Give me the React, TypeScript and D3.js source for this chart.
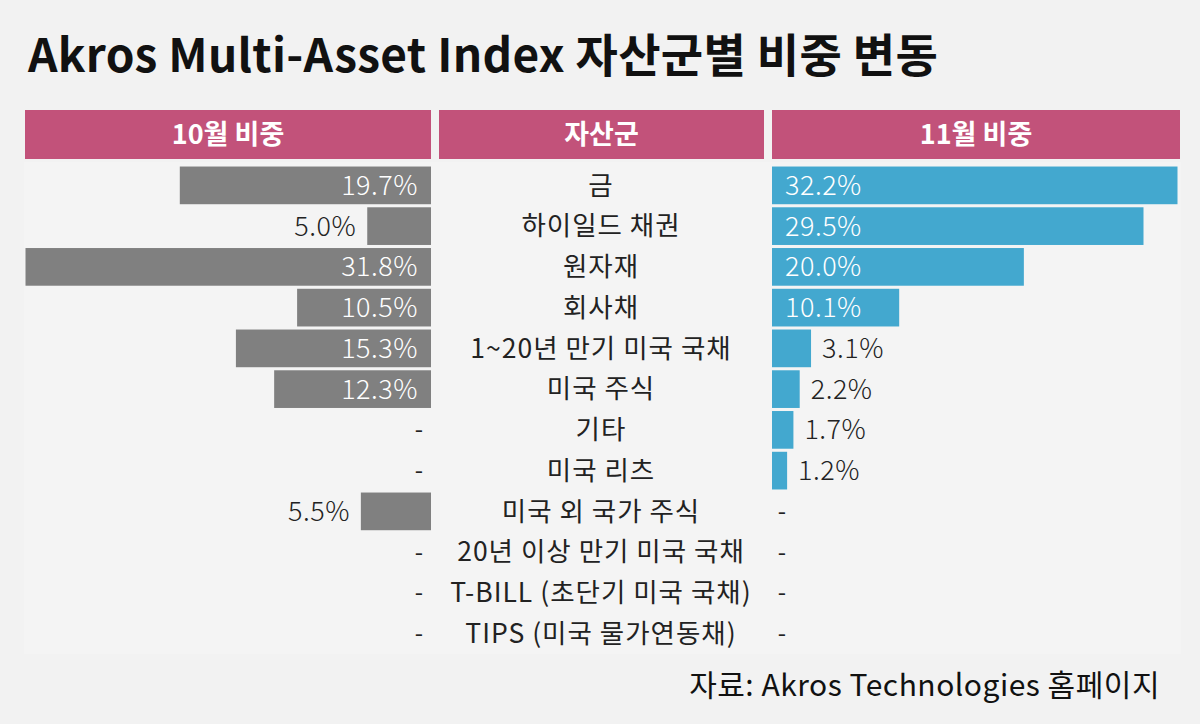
import React from "react";
import * as d3 from "d3";

const categories = [
  "금",
  "하이일드 채권",
  "원자재",
  "회사채",
  "1~20년 만기 미국 국채",
  "미국 주식",
  "기타",
  "미국 리츠",
  "미국 외 국가 주식",
  "20년 이상 만기 미국 국채",
  "T-BILL (초단기 미국 국채)",
  "TIPS (미국 물가연동채)",
];
const octWeights: (number | null)[] = [19.7, 5.0, 31.8, 10.5, 15.3, 12.3, null, null, 5.5, null, null, null];
const novWeights: (number | null)[] = [32.2, 29.5, 20.0, 10.1, 3.1, 2.2, 1.7, 1.2, null, null, null, null];
const headers = ["10월 비중", "자산군", "11월 비중"];
const title = "Akros Multi-Asset Index 자산군별 비중 변동";
const source = "자료: Akros Technologies 홈페이지";

const W = 1200;
const H = 724;
const FONT = "'Noto Sans CJK KR', 'Noto Sans', sans-serif";
const PINK = "#c2527a";
const BLUE = "#43a8cf";
const GRAY = "#808080";
const INSIDE_MIN = 8;

export default function App() {
  const leftEdge = 431;
  const rightStart = 772;
  const barMax = 405.5;

  const y = d3
    .scaleBand<string>()
    .domain(categories)
    .range([165, 654])
    .paddingInner(0.075)
    .paddingOuter(0.0375);

  const xL = d3.scaleLinear().domain([0, d3.max(octWeights, (d) => d ?? 0) as number]).range([0, barMax]);
  const xR = d3.scaleLinear().domain([0, d3.max(novWeights, (d) => d ?? 0) as number]).range([0, barMax]);

  const headerCols = [
    { x0: 25, x1: 431 },
    { x0: 439, x1: 764 },
    { x0: 772, x1: 1180 },
  ];

  const numSize = 27;

  return (
    <svg
      width={W}
      height={H}
      style={{ position: "absolute", left: 0, top: 0, display: "block" }}
      fontFamily={FONT}
    >
      <rect x={0} y={0} width={W} height={H} fill="#f2f2f2" />
      <rect x={24} y={162} width={1157} height={492} fill="#f4f4f4" />
      <text x={28} y={72} fontSize={46} fontWeight={700} fill="#111" letterSpacing={0.3}>
        {title}
      </text>
      {headers.map((h, i) => (
        <g key={h}>
          <rect x={headerCols[i].x0} y={110} width={headerCols[i].x1 - headerCols[i].x0} height={49} fill={PINK} />
          <text
            x={(headerCols[i].x0 + headerCols[i].x1) / 2}
            y={135}
            dy="0.35em"
            textAnchor="middle"
            fontSize={27}
            fontWeight={700}
            fill="#fff"
          >
            {h}
          </text>
        </g>
      ))}
      {categories.map((c, i) => {
        const yy = y(c) as number;
        const bh = y.bandwidth();
        const cy = yy + bh / 2;
        const o = octWeights[i];
        const n = novWeights[i];
        return (
          <g key={c}>
            {o != null ? (
              <>
                <rect x={leftEdge - xL(o)} y={yy} width={xL(o)} height={bh} fill={GRAY} />
                {o >= INSIDE_MIN ? (
                  <text x={leftEdge - 13} y={cy} dy="0.35em" textAnchor="end" fontSize={numSize} fontWeight={300} fill="#fff" letterSpacing={0.5}>
                    {o.toFixed(1)}%
                  </text>
                ) : (
                  <text x={leftEdge - xL(o) - 11} y={cy} dy="0.35em" textAnchor="end" fontSize={numSize} fontWeight={300} fill="#222" letterSpacing={0.5}>
                    {o.toFixed(1)}%
                  </text>
                )}
              </>
            ) : (
              <text x={419} y={cy} dy="0.35em" textAnchor="middle" fontSize={24} fill="#222">
                -
              </text>
            )}
            <text x={601} y={cy} dy="0.35em" textAnchor="middle" fontSize={26.5} fill="#222" letterSpacing={1}>
              {c}
            </text>
            {n != null ? (
              <>
                <rect x={rightStart} y={yy} width={xR(n)} height={bh} fill={BLUE} />
                {n >= INSIDE_MIN ? (
                  <text x={rightStart + 13} y={cy} dy="0.35em" textAnchor="start" fontSize={numSize} fontWeight={300} fill="#fff" letterSpacing={0.5}>
                    {n.toFixed(1)}%
                  </text>
                ) : (
                  <text x={rightStart + xR(n) + 11} y={cy} dy="0.35em" textAnchor="start" fontSize={numSize} fontWeight={300} fill="#222" letterSpacing={0.5}>
                    {n.toFixed(1)}%
                  </text>
                )}
              </>
            ) : (
              <text x={782} y={cy} dy="0.35em" textAnchor="middle" fontSize={24} fill="#222">
                -
              </text>
            )}
          </g>
        );
      })}
      <text x={1160} y={696} textAnchor="end" fontSize={30} fill="#111" letterSpacing={0.5}>
        {source}
      </text>
    </svg>
  );
}
